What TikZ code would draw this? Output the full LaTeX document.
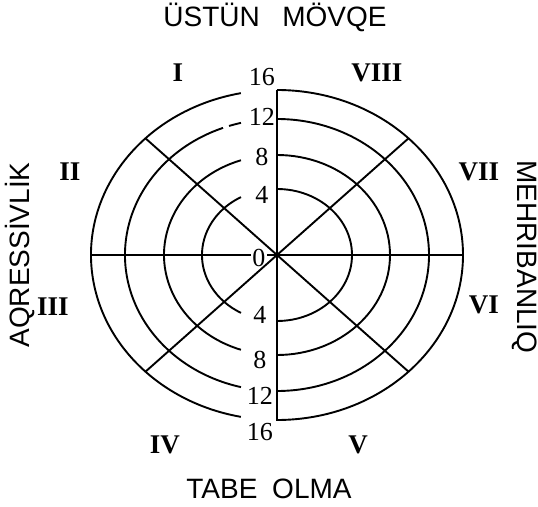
\documentclass[tikz,border=0pt]{standalone}
\usepackage{fontspec}
\setmainfont{Liberation Serif}
\newfontfamily\axisfont{Liberation Sans}

\begin{document}
\begin{tikzpicture}[x=1pt, y=1pt, line width=1.9pt,
    num/.style={inner sep=1pt, font=\fontsize{26}{30}\selectfont},
    sector/.style={font=\fontsize{27}{30}\selectfont\bfseries},
    axislbl/.style={anchor=base, font=\axisfont\fontsize{28}{32}\selectfont}]
  \useasboundingbox (-277,-251) rectangle (261,255);
  % right half of the rings
  \foreach \a/\b in {186/165, 152/136, 113/100, 75/66}
    \draw (90:{\a} and {\b}) arc[start angle=90, end angle=-90, x radius=\a, y radius=\b];
  % left half, stopping short of the scale
  \foreach \a/\b/\t in {186/165/101.2, 113/100/108.6, 75/66/118.7}
    \draw ({\t}:{\a} and {\b}) arc[start angle=\t, delta angle={2*(180-\t)}, x radius=\a, y radius=\b];
  \draw (103.7:152 and 136) arc[start angle=103.7, end angle=108.4, x radius=152, y radius=136];
  \draw (110.8:152 and 136) arc[start angle=110.8, end angle=256.3, x radius=152, y radius=136];
  % axes and diagonals
  \coordinate (o) at (0,0);
  \node[num] (zero) at (-18,-3) {0};
  \draw (-186,0) -- (zero.west |- o);
  \draw (zero.east |- o) -- (186,0);
  \draw (0,165) -- (0,-166);
  \foreach \t in {45,135,225,315}
    \draw (o) -- ({\t}:186 and 165);
  % scale
  \foreach \v/\u/\d in {16/178/-177, 12/138/-141, 8/98/-105, 4/60/-60} {
    \node[num] (up\v) at (-15,\u) {\v};
    \node[num] (dn\v) at (-17,\d) {\v};
  }
  % sectors
  \node[sector] (s1) at (-99,182) {I};
  \node[sector] (s2) at (-207,83) {II};
  \node[sector] (s3) at (-224,-52) {III};
  \node[sector] (s4) at (-112,-190) {IV};
  \node[sector] (s5) at (81,-190) {V};
  \node[sector] (s6) at (207,-50) {VI};
  \node[sector] (s7) at (202,83) {VII};
  \node[sector] (s8) at (100,182) {VIII};
  % axis names
  \node[axislbl] (top) at (-2,228) {ÜSTÜN\hspace{0.8em}MÖVQE};
  \node[axislbl] (bottom) at (-8,-243) {TABE\hspace{0.25em} OLMA};
  \node[axislbl, rotate=90] (left) at (-247,0) {AQRESSİVLİK};
  \node[axislbl, rotate=-90] (right) at (240,-2) {MEHRIBANLIQ};
\end{tikzpicture}
\end{document}
